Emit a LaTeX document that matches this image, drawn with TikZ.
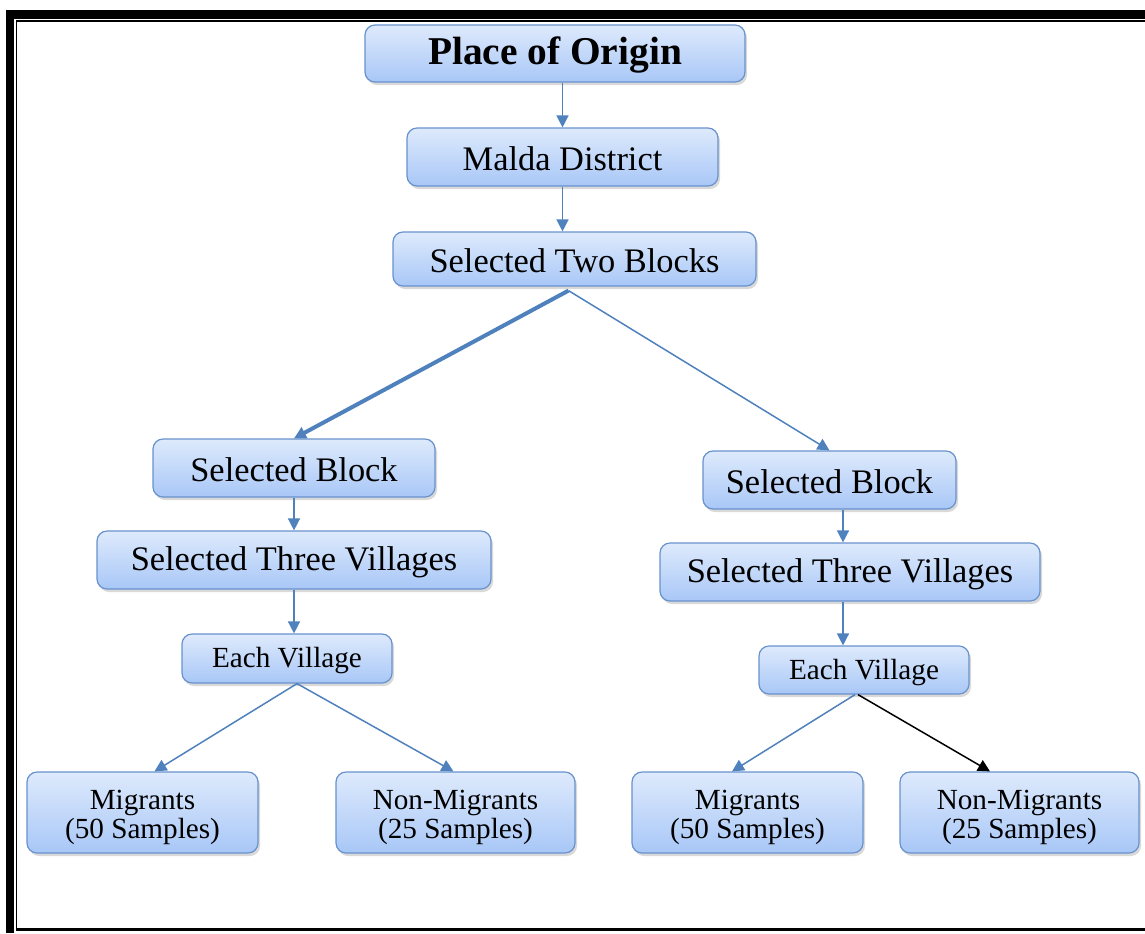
\documentclass[tikz,border=0pt]{standalone}
\usepackage{fontspec}
\setmainfont{Liberation Serif}
\usetikzlibrary{arrows.meta,shadows}
\definecolor{boxtop}{RGB}{222,234,252}
\definecolor{boxbot}{RGB}{168,199,247}
\definecolor{boxline}{RGB}{104,146,204}
\definecolor{flowblue}{RGB}{79,129,189}
\newcommand{\upstrut}{\rule{0pt}{14.6pt}}
\begin{document}
\begin{tikzpicture}[x=0.5pt, y=-0.5pt,
  basebox/.style={rounded corners=5pt, draw=boxline, line width=0.6pt, top color=boxtop, bottom color=boxbot,
    inner sep=0pt, align=center, drop shadow={opacity=0.3, shadow xshift=1pt, shadow yshift=-1.5pt}},
  box/.style={basebox, font=\fontsize{17.2}{18}\selectfont, text height=13.8pt},
  smallbox/.style={basebox, font=\fontsize{14.6}{14.5}\selectfont, text height=12.5pt},
  pairbox/.style={basebox, font=\fontsize{14.6}{14.5}\selectfont},
  flow/.style={draw=flowblue, line width=0.75pt, -{Triangle[length=6pt,width=6pt]}}]
\useasboundingbox (0,0) rectangle (1145,933);
% frame
\fill (6,10) rectangle (14,933);
\fill (6,10) rectangle (1145,19);
\draw[line width=0.85pt] (16.5,929) -- (16.5,20.8) -- (1145,20.8);
\fill (16,928) rectangle (1145,931);
% boxes
\node[box, minimum width=190pt, minimum height=28.5pt, text height=15.8pt, font=\fontsize{19.7}{20}\selectfont\bfseries] (origin) at (555,53.5){Place of Origin};
\node[box, minimum width=155.5pt, minimum height=29pt] (malda) at (562.5,157){Malda District};
\node[box, minimum width=181.5pt, minimum height=27pt] (twoblocks) at (574.5,259){Selected Two Blocks};
\node[box, minimum width=141pt, minimum height=29pt] (blockL) at (294,468){Selected Block};
\node[box, minimum width=126.5pt, minimum height=29pt] (blockR) at (829.5,480){Selected Block};
\node[box, minimum width=197pt, minimum height=29pt] (villL) at (294,560){Selected Three Villages};
\node[box, minimum width=190pt, minimum height=29pt] (villR) at (850,572){Selected Three Villages};
\node[smallbox, minimum width=105pt, minimum height=24.5pt] (eachL) at (287,658.5){Each Village};
\node[smallbox, minimum width=105pt, minimum height=24pt] (eachR) at (864,670){Each Village};
\node[pairbox, minimum width=115.5pt, minimum height=40.5pt] (migL) at (142.5,812.5){\upstrut Migrants\\(50 Samples)};
\node[pairbox, minimum width=119.5pt, minimum height=40.5pt] (nonL) at (455.5,812.5){\upstrut Non-Migrants\\(25 Samples)};
\node[pairbox, minimum width=115.5pt, minimum height=40.5pt] (migR) at (747.5,812.5){\upstrut Migrants\\(50 Samples)};
\node[pairbox, minimum width=119.5pt, minimum height=40.5pt] (nonR) at (1019.5,812.5){\upstrut Non-Migrants\\(25 Samples)};
% connectors
\draw[flow](origin.south -| malda.north) -- (malda.north);
\draw[flow](malda.south) -- (malda.south |- twoblocks.north);
\draw[flow, line width=2pt]([xshift=-3pt,yshift=-2pt]twoblocks.south) -- (blockL.north);
\draw[flow]([xshift=-3pt,yshift=-2pt]twoblocks.south) -- (blockR.north);
\draw[flow](blockL.south) -- (villL.north);
\draw[flow](villL.south) -- (villL.south |- eachL.north);
\draw[flow]([xshift=6.75pt]blockR.south) -- ([xshift=-3.5pt]villR.north);
\draw[flow]([xshift=-3.5pt]villR.south) -- ([xshift=-10.5pt]eachR.north);
\draw[flow]([xshift=5pt]eachL.south) -- ([xshift=6pt]migL.north);
\draw[flow]([xshift=5pt]eachL.south) -- ([xshift=-1pt]nonL.north);
\draw[flow]([xshift=-4.5pt]eachR.south) -- ([xshift=-7.75pt]migR.north);
\draw[line width=0.75pt, -{Triangle[length=6pt,width=6pt]}]([xshift=-3pt]eachR.south) -- ([xshift=-14.75pt]nonR.north);
\end{tikzpicture}
\end{document}
